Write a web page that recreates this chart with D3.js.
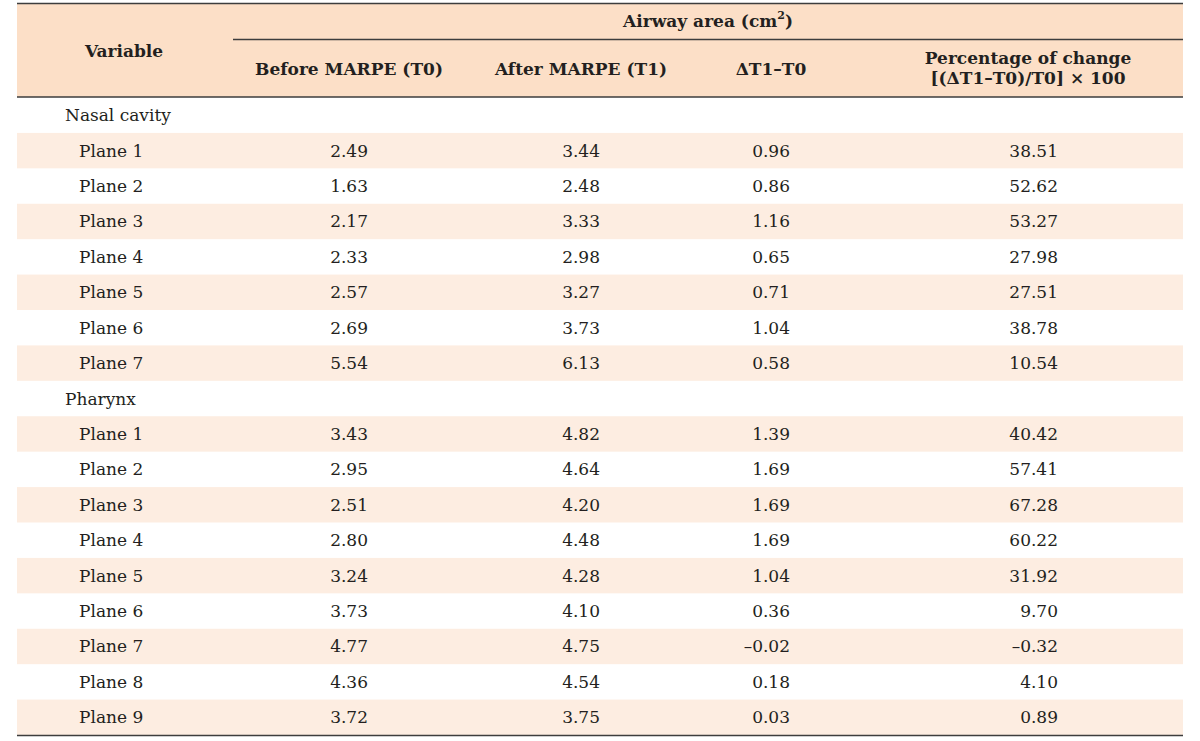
<!DOCTYPE html>
<html><head><meta charset="utf-8">
<script src="https://cdn.jsdelivr.net/npm/d3@7"></script>
<style>
html,body{margin:0;padding:0;background:#fff;}
svg text{font-family:"DejaVu Serif",serif;fill:#231f20;}
</style></head>
<body><svg id="chart" width="1200" height="741"></svg>
<script>
const groups = ["Nasal cavity", "Pharynx"];
const nasalPlanes = ["Plane 1","Plane 2","Plane 3","Plane 4","Plane 5","Plane 6","Plane 7"];
const nasalT0 = ["2.49","1.63","2.17","2.33","2.57","2.69","5.54"];
const nasalT1 = ["3.44","2.48","3.33","2.98","3.27","3.73","6.13"];
const nasalDelta = ["0.96","0.86","1.16","0.65","0.71","1.04","0.58"];
const nasalPct = ["38.51","52.62","53.27","27.98","27.51","38.78","10.54"];
const pharynxPlanes = ["Plane 1","Plane 2","Plane 3","Plane 4","Plane 5","Plane 6","Plane 7","Plane 8","Plane 9"];
const pharynxT0 = ["3.43","2.95","2.51","2.80","3.24","3.73","4.77","4.36","3.72"];
const pharynxT1 = ["4.82","4.64","4.20","4.48","4.28","4.10","4.75","4.54","3.75"];
const pharynxDelta = ["1.39","1.69","1.69","1.69","1.04","0.36","\u20130.02","0.18","0.03"];
const pharynxPct = ["40.42","57.41","67.28","60.22","31.92","9.70","\u20130.32","4.10","0.89"];
const columnHeaders = ["Before MARPE (T0)","After MARPE (T1)","\u0394T1\u2013T0"];
const pctHeader = ["Percentage of change","[(\u0394T1\u2013T0)/T0] \u00d7 100"];

// build rows
const rows = [];
rows.push({type:"group", label:groups[0]});
nasalPlanes.forEach((p,i)=>rows.push({type:"data", label:p, vals:[nasalT0[i],nasalT1[i],nasalDelta[i],nasalPct[i]]}));
rows.push({type:"group", label:groups[1]});
pharynxPlanes.forEach((p,i)=>rows.push({type:"data", label:p, vals:[pharynxT0[i],pharynxT1[i],pharynxDelta[i],pharynxPct[i]]}));

const svg = d3.select("#chart");
const L = 17, R = 1183;
const headBg = "#fcdfc7", stripe = "#fdede1", lineC = "#3d3d3d";
const fs = 17;

svg.append("rect").attr("x",L).attr("y",4).attr("width",R-L).attr("height",93).attr("fill",headBg);

const y = d3.scaleBand().domain(d3.range(rows.length)).range([97.5, 735]).paddingInner(0);
const colRight = d3.scaleOrdinal().domain([0,1,2,3]).range([368, 600, 790, 1058]);
const colCenter = d3.scaleOrdinal().domain([0,1,2,3]).range([349, 581, 771, 1028]);

svg.selectAll("rect.stripe").data(rows.map((r,i)=>({r,i})).filter(d=>d.r.type==="data" && (d.i%2===1)))
  .enter().append("rect").attr("class","stripe")
  .attr("x",L).attr("width",R-L).attr("y",d=>y(d.i)).attr("height",y.bandwidth()).attr("fill",stripe);

function hline(x1,x2,yy,w){svg.append("line").attr("x1",x1).attr("x2",x2).attr("y1",yy).attr("y2",yy).attr("stroke",lineC).attr("stroke-width",w);}
hline(L,R,3.5,1.5);
hline(233,R,39.5,1.3);
hline(L,R,97,1.5);
hline(L,R,735.5,1.5);

const hdr = svg.append("g").attr("font-weight","bold").attr("font-size",fs);
hdr.append("text").attr("x",124).attr("y",52).attr("text-anchor","middle").attr("dominant-baseline","middle").text("Variable");
const aw = hdr.append("text").attr("x",708).attr("y",22).attr("text-anchor","middle").attr("dominant-baseline","middle");
aw.append("tspan").text("Airway area (cm");
aw.append("tspan").attr("font-size",11).attr("dy",-6).text("2");
aw.append("tspan").attr("dy",6).text(")");
columnHeaders.forEach((h,i)=>{
  hdr.append("text").attr("x",colCenter(i)).attr("y",70).attr("text-anchor","middle").attr("dominant-baseline","middle").text(h);
});
pctHeader.forEach((h,i)=>{
  hdr.append("text").attr("x",colCenter(3)).attr("y",59+i*20).attr("text-anchor","middle").attr("dominant-baseline","middle").text(h);
});

const body = svg.append("g").attr("font-size",fs);
rows.forEach((r,i)=>{
  const cy = y(i)+y.bandwidth()/2+1.5;
  body.append("text").attr("x", r.type==="group"?65:79).attr("y",cy).attr("dominant-baseline","middle").text(r.label);
  if(r.type==="data"){
    r.vals.forEach((v,j)=>{
      body.append("text").attr("x",colRight(j)).attr("y",cy).attr("text-anchor","end").attr("dominant-baseline","middle").text(v);
    });
  }
});
</script></body></html>
